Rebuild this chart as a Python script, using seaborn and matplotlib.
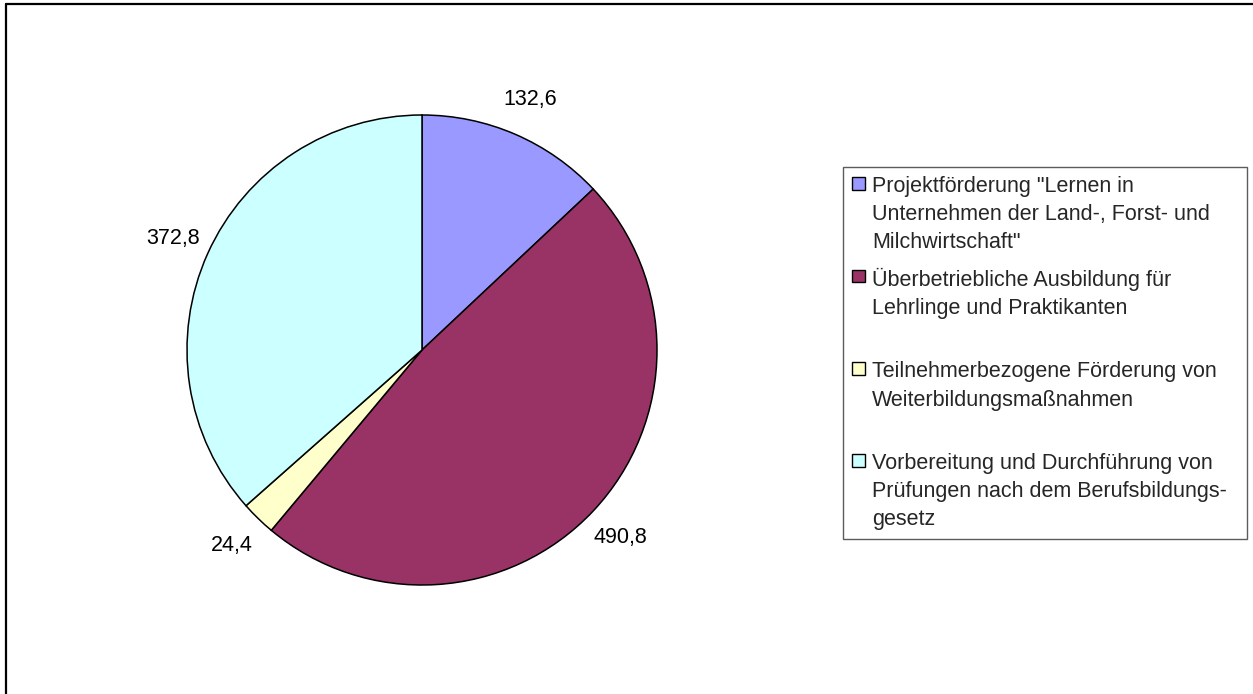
import matplotlib
matplotlib.use("Agg")
import matplotlib.pyplot as plt
import matplotlib.patches as mpatches
from matplotlib.lines import Line2D
from matplotlib.legend_handler import HandlerPatch
import seaborn as sns

# -------------------------
# Data
# -------------------------
categories = [
    'Projektförderung "Lernen in\nUnternehmen der Land-, Forst- und\nMilchwirtschaft"',
    "Überbetriebliche Ausbildung für\nLehrlinge und Praktikanten\n ",
    "Teilnehmerbezogene Förderung von\nWeiterbildungsmaßnahmen\n ",
    "Vorbereitung und Durchführung von\nPrüfungen nach dem Berufsbildungs-\ngesetz",
]
values = [132.6, 490.8, 24.4, 372.8]
colors = ["#9999FF", "#993366", "#FFFFCC", "#CCFFFF"]

value_labels = [f"{v:.1f}".replace(".", ",") for v in values]

# -------------------------
# Style
# -------------------------
sns.set_theme(style="white")
plt.rcParams["font.family"] = ["Liberation Sans", "DejaVu Sans"]
FS = 15.5

W, H = 1253, 694
fig = plt.figure(figsize=(W / 100, H / 100), dpi=100)
fig.patch.set_facecolor("white")

# pie axes: centre (422, 350) px, radius 235 px, limits +-1.3
cx, cy, r, lim = 422, 350, 235, 1.3
half = r * lim
ax = fig.add_axes([(cx - half) / W, (H - cy - half) / H, 2 * half / W, 2 * half / H])

wedges, texts = ax.pie(
    values,
    labels=value_labels,
    colors=colors,
    startangle=90,
    counterclock=False,
    labeldistance=1.16,
    wedgeprops={"edgecolor": "black", "linewidth": 1.1},
    textprops={"fontsize": FS, "color": "black"},
)
for t in texts:
    t.set_ha("center")
    t.set_va("center")
ax.set_xlim(-lim, lim)
ax.set_ylim(-lim, lim)
ax.set_aspect("equal")
ax.axis("off")


# -------------------------
# Legend (square marker next to the first text line)
# -------------------------
def top_square(legend, orig_handle, xdescent, ydescent, width, height, fontsize):
    s = 0.6 * fontsize
    return mpatches.Rectangle((-xdescent, 1.53 * fontsize), s, s)


handles = [mpatches.Patch(facecolor=c, edgecolor="black", linewidth=1.0) for c in colors]
leg = fig.legend(
    handles,
    categories,
    loc="upper left",
    bbox_to_anchor=(843 / W, 0, 404 / W, 1 - 167 / H),
    bbox_transform=fig.transFigure,
    mode="expand",
    borderaxespad=0,
    borderpad=0.42,
    fontsize=FS,
    handlelength=0.62,
    handletextpad=0.3,
    labelspacing=0.66,
    fancybox=False,
    frameon=True,
    handler_map={mpatches.Patch: HandlerPatch(patch_func=top_square)},
)
leg.get_frame().set_edgecolor("#333333")
leg.get_frame().set_linewidth(1.0)
for t in leg.get_texts():
    t.set_linespacing(1.45)

# outer chart border (top and left edges visible)
fig.add_artist(Line2D([6 / W, 6 / W], [0, 1 - 4 / H], transform=fig.transFigure,
                      color="black", linewidth=1.6))
fig.add_artist(Line2D([6 / W, 1], [1 - 4 / H, 1 - 4 / H], transform=fig.transFigure,
                      color="black", linewidth=1.6))

plt.savefig("out.png", dpi=100)
